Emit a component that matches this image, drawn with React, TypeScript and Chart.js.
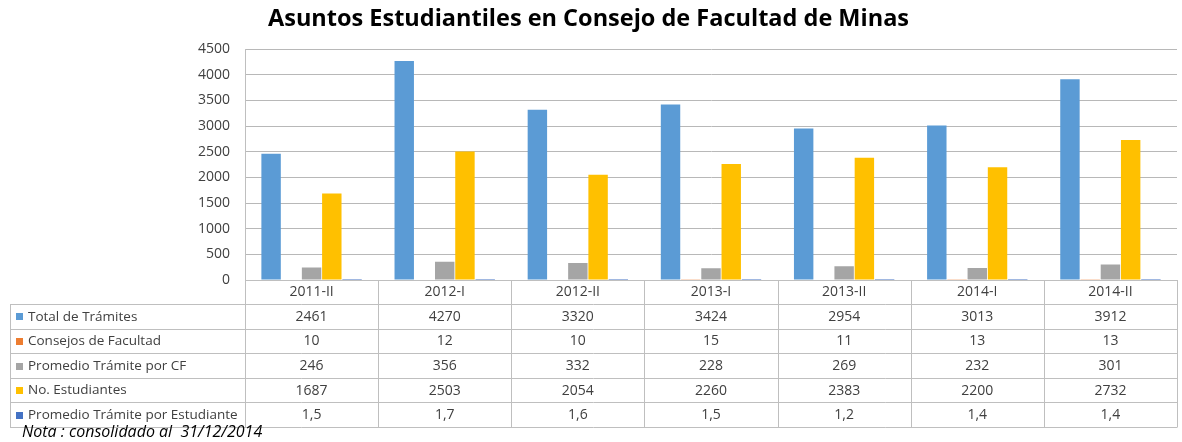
import React, { useEffect, useRef } from "react";
import { Chart, registerables } from "chart.js";

Chart.register(...registerables);

const categories = ["2011-II", "2012-I", "2012-II", "2013-I", "2013-II", "2014-I", "2014-II"];
const totalTramites = [2461, 4270, 3320, 3424, 2954, 3013, 3912];
const consejosFacultad = [10, 12, 10, 15, 11, 13, 13];
const promedioPorCF = [246, 356, 332, 228, 269, 232, 301];
const noEstudiantes = [1687, 2503, 2054, 2260, 2383, 2200, 2732];
const promedioPorEstudiante = [1.5, 1.7, 1.6, 1.5, 1.2, 1.4, 1.4];

const seriesLabels = [
  "Total de Trámites",
  "Consejos de Facultad",
  "Promedio Trámite por CF",
  "No. Estudiantes",
  "Promedio Trámite por Estudiante",
];
const seriesColors = ["#5B9BD5", "#ED7D31", "#A5A5A5", "#FFC000", "#4472C4"];
const seriesData = [totalTramites, consejosFacultad, promedioPorCF, noEstudiantes, promedioPorEstudiante];

const yMin = 0;
const yMax = 4500;
const yStep = 500;

const titleText = "Asuntos Estudiantiles en Consejo de Facultad de Minas";
const noteText = "Nota : consolidado al  31/12/2014";

const FONT = '"Open Sans", sans-serif';
const W = 1182;
const H = 442;
const LINE = "#BFBFBF";
const TEXT = "#404040";

function fmt(v: number, i: number): string {
  if (i === 4) return v.toFixed(1).replace(".", ",");
  return String(v);
}

const tablePlugin = {
  id: "dataTable",
  afterDraw(chart: any) {
    const { ctx, chartArea } = chart;
    const n = categories.length;
    const left = chartArea.left;
    const right = chartArea.right;
    const colW = (right - left) / n;
    const top = chartArea.bottom;
    const headerBottom = top + 24;
    const tableBottom = H - 15;
    const rows = seriesLabels.length;
    const rowH = (tableBottom - headerBottom) / rows;
    const tableLeft = 10;
    const px = (v: number) => Math.round(v) + 0.5;

    ctx.save();
    ctx.strokeStyle = LINE;
    ctx.lineWidth = 1;
    ctx.beginPath();
    ctx.moveTo(left, px(top));
    ctx.lineTo(right, px(top));
    for (let r = 0; r <= rows; r++) {
      const y = px(headerBottom + r * rowH);
      ctx.moveTo(tableLeft, y);
      ctx.lineTo(right, y);
    }
    ctx.moveTo(px(tableLeft), headerBottom);
    ctx.lineTo(px(tableLeft), tableBottom);
    for (let c = 0; c <= n; c++) {
      const x = px(left + c * colW);
      ctx.moveTo(x, top);
      ctx.lineTo(x, px(tableBottom));
    }
    ctx.stroke();

    ctx.fillStyle = TEXT;
    ctx.textAlign = "center";
    ctx.textBaseline = "middle";
    ctx.font = `14px ${FONT}`;
    const xs = chart.scales.x;
    categories.forEach((cat, i) => {
      const cx = xs.getPixelForValue(i);
      ctx.fillText(cat, cx, top + 12.5);
    });

    for (let r = 0; r < rows; r++) {
      const cy = headerBottom + r * rowH + rowH / 2 + 0.5;
      ctx.fillStyle = seriesColors[r];
      ctx.fillRect(16, Math.round(cy - 3.5), 7, 7);
      ctx.fillStyle = TEXT;
      ctx.textAlign = "left";
      ctx.font = `13.5px ${FONT}`;
      ctx.fillText(seriesLabels[r], 28, cy);
      ctx.textAlign = "center";
      ctx.font = `14px ${FONT}`;
      seriesData[r].forEach((v, i) => {
        ctx.fillText(fmt(v, r), xs.getPixelForValue(i), cy);
      });
    }

    ctx.fillStyle = "#000000";
    ctx.textAlign = "left";
    ctx.textBaseline = "alphabetic";
    ctx.font = `italic 16px ${FONT}`;
    ctx.fillText(noteText, 22, 437);
    ctx.restore();
  },
};

export default function App() {
  const ref = useRef<HTMLCanvasElement | null>(null);

  useEffect(() => {
    if (!ref.current) return;
    const chart = new Chart(ref.current, {
      type: "bar",
      data: {
        labels: categories,
        datasets: seriesLabels.map((label, i) => ({
          label,
          data: seriesData[i],
          backgroundColor: seriesColors[i],
          borderWidth: 0,
          categoryPercentage: 0.76,
          barPercentage: 0.96,
        })),
      },
      options: {
        responsive: false,
        animation: false,
        layout: { padding: { top: 0, left: 0, right: 5, bottom: 138 } },
        plugins: {
          legend: { display: false },
          tooltip: { enabled: false },
          title: {
            display: true,
            text: titleText,
            color: "#000000",
            font: { family: FONT, size: 23.5, weight: "bold" },
            padding: { top: 5, bottom: 16 },
          },
        },
        scales: {
          x: {
            grid: { display: false },
            border: { display: true, color: LINE },
            ticks: { display: false },
            afterFit(scale: any) {
              scale.height = 24;
            },
          },
          y: {
            min: yMin,
            max: yMax,
            ticks: {
              stepSize: yStep,
              color: TEXT,
              font: { family: FONT, size: 14 },
              padding: 15,
              callback: (v: any) => String(v),
            },
            grid: { color: "#B8B8B8", drawTicks: false, tickLength: 0 },
            border: { display: true, color: LINE },
            afterFit(scale: any) {
              scale.width = 245;
            },
          },
        },
      },
      plugins: [tablePlugin],
    });
    return () => chart.destroy();
  }, []);

  return (
    <div style={{ position: "absolute", left: 0, top: 0, width: W, height: H, background: "#fff" }}>
      <canvas ref={ref} width={W} height={H} style={{ width: W, height: H }} />
    </div>
  );
}
